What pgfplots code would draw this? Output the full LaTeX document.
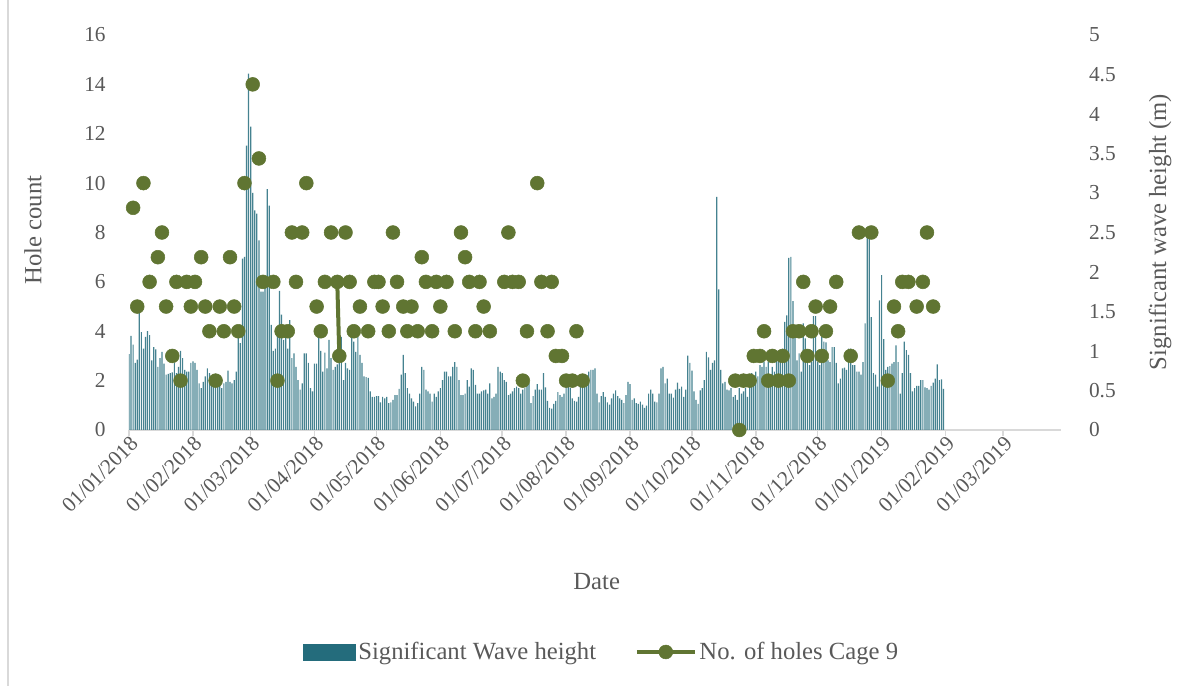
\documentclass[border=0pt]{standalone}
\usepackage{pgfplots}
\pgfplotsset{compat=1.18}
\usepackage{fontspec}
\setmainfont{Liberation Serif}

\definecolor{barcol}{RGB}{36,108,124}
\definecolor{holecol}{RGB}{96,117,50}
\definecolor{axisgray}{RGB}{217,217,217}
\definecolor{textgray}{RGB}{89,89,89}

\newcommand{\lbl}{\fontsize{16}{19}\selectfont}
\newcommand{\ttl}{\fontsize{18.5}{22}\selectfont}

\pgfplotsset{
  barlegend/.style={legend image code/.code={\fill[barcol] (0pt,-6pt) rectangle (39pt,6pt);}},
  holelegend/.style={legend image code/.code={%
      \draw[holecol, line width=3pt] (0pt,0pt) -- (43.5pt,0pt);
      \fill[holecol] (21.75pt,0pt) circle (5.2pt);}},
  common/.style={
    at={(96.75pt,192pt)}, anchor=south west,
    scale only axis, width=699pt, height=296.25pt,
    xmin=0, xmax=452,
    tick label style={font=\lbl, text=textgray},
    /pgf/number format/assume math mode=true,
  },
}

\begin{document}
\begin{tikzpicture}
\path[use as bounding box] (0,0) rectangle (887.25pt,514.5pt);
\draw[axisgray, line width=0.8pt] (6pt,0) -- (6pt,514.5pt);

% daily significant wave height (right axis, metres)
\begin{axis}[common,
  ymin=0, ymax=5,
  axis x line*=bottom, axis y line*=right,
  x axis line style={draw=axisgray, line width=1.2pt, -},
  y axis line style={draw=none},
  xtick={0,31,59,90,120,151,181,212,243,273,304,334,365,396,424},
  xticklabels={01/01/2018,01/02/2018,01/03/2018,01/04/2018,01/05/2018,01/06/2018,01/07/2018,01/08/2018,01/09/2018,01/10/2018,01/11/2018,01/12/2018,01/01/2019,01/02/2019,01/03/2019},
  x tick style={draw=axisgray, line width=1.2pt},
  tick align=outside, major tick length=4.5pt,
  xticklabel style={rotate=45, anchor=east, xshift=4pt, yshift=-5pt},
  ytick={0,0.5,1,1.5,2,2.5,3,3.5,4,4.5,5},
  y tick style={draw=none},
  yticklabel style={anchor=west, xshift=13pt},
]
\addplot[ybar, bar width=0.9pt, fill=barcol!85!white, draw=none] table[row sep=\\] {
0 0.96\\1 1.19\\2 1.08\\3 0.85\\4 0.89\\5 1.48\\6 1.24\\7 1.03\\8 1.18\\9 1.25\\
10 1.20\\11 0.88\\12 1.05\\13 1.02\\14 0.80\\15 0.91\\16 0.99\\17 0.84\\18 0.70\\19 0.71\\
20 0.72\\21 0.73\\22 0.85\\23 0.72\\24 0.80\\25 1.00\\26 0.91\\27 0.76\\28 0.74\\29 0.74\\
30 0.85\\31 0.87\\32 0.85\\33 0.76\\34 0.59\\35 0.53\\36 0.61\\37 0.68\\38 0.78\\39 0.72\\
40 0.59\\41 0.68\\42 0.59\\43 0.59\\44 0.59\\45 0.53\\46 0.59\\47 0.61\\48 0.75\\49 0.61\\
50 0.59\\51 0.63\\52 0.74\\53 1.18\\54 1.10\\55 2.17\\56 2.19\\57 3.60\\58 4.51\\59 3.84\\
60 3.00\\61 2.78\\62 2.74\\63 2.40\\64 1.75\\65 1.75\\
66 1.90\\67 3.05\\68 2.84\\69 1.33\\70 1.00\\71 1.03\\72 1.30\\73 1.76\\74 1.46\\75 1.14\\
76 1.27\\77 1.03\\78 1.39\\79 0.91\\80 0.97\\81 0.80\\82 0.63\\83 0.51\\84 0.59\\85 0.97\\
86 0.97\\87 0.85\\88 0.53\\89 0.49\\90 0.84\\91 0.84\\92 1.18\\93 1.00\\94 0.74\\95 0.98\\
96 0.78\\97 1.14\\98 0.91\\99 0.76\\100 0.80\\101 0.83\\102 0.95\\103 1.18\\104 0.63\\105 0.85\\
106 0.78\\107 0.76\\108 1.18\\109 1.12\\110 0.99\\111 1.18\\112 0.95\\113 0.85\\114 0.68\\115 0.67\\
116 0.66\\117 0.49\\118 0.42\\119 0.42\\120 0.43\\121 0.43\\122 0.35\\123 0.42\\124 0.40\\125 0.42\\
126 0.34\\127 0.35\\128 0.38\\129 0.44\\130 0.44\\
131 0.52\\132 0.70\\133 0.95\\134 0.72\\135 0.53\\136 0.46\\137 0.40\\138 0.36\\139 0.30\\140 0.34\\
141 0.46\\142 0.80\\143 0.76\\144 0.51\\145 0.49\\146 0.46\\147 0.36\\148 0.46\\149 0.42\\150 0.49\\
151 0.53\\152 0.63\\153 0.74\\154 0.74\\155 0.68\\156 0.68\\157 0.80\\158 0.86\\159 0.80\\160 0.63\\
161 0.44\\162 0.44\\163 0.46\\164 0.63\\165 0.55\\166 0.78\\167 0.76\\168 0.57\\169 0.46\\170 0.46\\
171 0.49\\172 0.50\\173 0.51\\174 0.46\\175 0.59\\176 0.40\\177 0.42\\178 0.46\\179 0.80\\180 0.74\\
181 0.72\\182 0.63\\183 0.61\\184 0.44\\185 0.46\\186 0.49\\187 0.53\\188 0.55\\189 0.53\\190 0.46\\
191 0.51\\192 0.53\\193 0.61\\194 0.59\\
195 0.34\\196 0.43\\197 0.51\\198 0.58\\199 0.51\\200 0.51\\201 0.72\\202 0.54\\203 0.37\\204 0.28\\
205 0.27\\206 0.33\\207 0.37\\208 0.48\\209 0.44\\210 0.42\\211 0.46\\212 0.55\\213 0.63\\214 0.53\\
215 0.40\\216 0.37\\217 0.36\\218 0.42\\219 0.55\\220 0.57\\221 0.61\\222 0.68\\223 0.74\\224 0.76\\
225 0.76\\226 0.78\\227 0.46\\228 0.35\\229 0.43\\230 0.48\\231 0.42\\232 0.35\\233 0.32\\234 0.40\\
235 0.46\\236 0.50\\237 0.43\\238 0.40\\239 0.38\\240 0.34\\241 0.44\\242 0.61\\243 0.58\\244 0.38\\
245 0.40\\246 0.34\\247 0.33\\248 0.36\\249 0.32\\250 0.28\\251 0.31\\252 0.46\\253 0.51\\254 0.46\\
255 0.36\\256 0.35\\257 0.46\\258 0.78\\259 0.80\\260 0.59\\261 0.65\\262 0.46\\
263 0.46\\264 0.41\\265 0.51\\266 0.60\\267 0.52\\268 0.55\\269 0.42\\270 0.51\\271 0.94\\272 0.85\\
273 0.75\\274 0.49\\275 0.38\\276 0.33\\277 0.50\\278 0.53\\279 0.63\\280 0.99\\281 0.92\\282 0.76\\
283 0.85\\284 0.88\\285 2.95\\286 1.78\\287 0.76\\288 0.59\\289 0.61\\290 0.51\\291 0.50\\292 0.53\\
293 0.42\\294 0.44\\295 0.38\\296 0.53\\297 0.46\\298 0.49\\299 0.53\\300 0.42\\301 0.63\\302 0.72\\
303 0.63\\304 0.74\\305 0.68\\306 0.82\\307 0.80\\308 0.86\\309 0.80\\310 0.86\\311 0.63\\312 0.80\\
313 0.74\\314 0.88\\315 0.97\\316 0.88\\317 1.03\\318 1.37\\319 1.45\\320 2.18\\321 2.19\\322 1.63\\
323 1.27\\324 0.88\\325 0.97\\326 0.74\\
327 1.35\\328 1.16\\329 0.91\\330 0.82\\331 0.86\\332 1.44\\333 1.44\\334 0.86\\335 0.82\\336 1.18\\
337 1.12\\338 1.11\\339 0.88\\340 0.86\\341 1.05\\342 1.05\\343 0.85\\344 0.59\\345 0.65\\346 0.78\\
347 0.79\\348 0.76\\349 1.03\\350 1.03\\351 0.82\\352 0.82\\353 0.74\\354 0.74\\355 0.70\\356 0.86\\
357 1.35\\358 2.57\\359 2.57\\360 1.43\\361 0.72\\362 0.70\\363 0.55\\364 1.64\\365 1.96\\366 1.15\\
367 0.76\\368 0.80\\369 0.81\\370 0.84\\371 0.86\\372 1.07\\373 0.86\\374 0.46\\375 0.72\\376 1.12\\
377 1.01\\378 0.95\\379 0.72\\380 0.49\\381 0.53\\382 0.56\\383 0.56\\384 0.63\\385 0.63\\386 0.54\\
387 0.53\\388 0.51\\389 0.56\\390 0.60\\391 0.65\\392 0.83\\393 0.63\\394 0.64\\395 0.52\\
};
\end{axis}

% hole counts (left axis)
\begin{axis}[common,
  ymin=0, ymax=16, clip=false,
  axis x line=none, axis y line*=left,
  y axis line style={draw=none},
  ytick={0,2,4,6,8,10,12,14,16},
  y tick style={draw=none}, major tick length=0pt,
  yticklabel style={anchor=east, xshift=-14pt},
  legend columns=2,
  legend cell align=left,
  legend style={at={(0.5075,-0.562)}, anchor=center, draw=none, fill=none,
    font=\ttl, text=textgray,
    /tikz/every even column/.append style={column sep=27pt}},
]
\addlegendimage{barlegend}
\addlegendentry{Significant Wave height}
\addlegendimage{holelegend}
\addlegendentry{No. of holes Cage 9}
\addplot[holecol, line width=3pt, forget plot] coordinates {(101,6) (102,3)};
\addplot[only marks, mark=*, mark size=5.2pt, holecol, forget plot] coordinates {
(2,9)(4,5)(7,10)(10,6)(14,7)(16,8)(18,5)(21,3)(23,6)(25,2)(28,6)(30,5)(32,6)(35,7)(37,5)
(39,4)(42,2)(44,5)(46,4)(49,7)(51,5)(53,4)(56,10)(60,14)(63,11)(65,6)(70,6)(72,2)(74,4)
(77,4)(79,8)(81,6)(84,8)(86,10)(91,5)(93,4)(95,6)(98,8)(101,6)(102,3)(105,8)(107,6)(109,4)
(112,5)(116,4)(119,6)(121,6)(123,5)(126,4)(128,8)(130,6)(133,5)(135,4)(137,5)(140,4)(142,7)
(144,6)(147,4)(149,6)(151,5)(154,6)(158,4)(161,8)(163,7)(165,6)(168,4)(170,6)(172,5)(175,4)
(182,6)(184,8)(186,6)(189,6)(191,2)(193,4)(198,10)(200,6)(203,4)(205,6)(207,3)(210,3)(212,2)
(215,2)(217,4)(220,2)(294,2)(296,0)(298,2)(301,2)(303,3)(306,3)(308,4)(310,2)(312,3)(315,2)
(317,3)(320,2)(322,4)(325,4)(327,6)(329,3)(331,4)(333,5)(336,3)(338,4)(340,5)(343,6)(350,3)
(354,8)(360,8)(368,2)(371,5)(373,4)(375,6)(378,6)(382,5)(385,6)(387,8)(390,5)
};
\end{axis}

\node[text=textgray, font=\ttl] at (447.5pt,78pt) {Date};
\node[text=textgray, font=\ttl, rotate=90] at (24.75pt,342pt) {Hole count};
\node[text=textgray, font=\ttl, rotate=90] at (870pt,340.5pt) {Significant wave height (m)};
\end{tikzpicture}
\end{document}
